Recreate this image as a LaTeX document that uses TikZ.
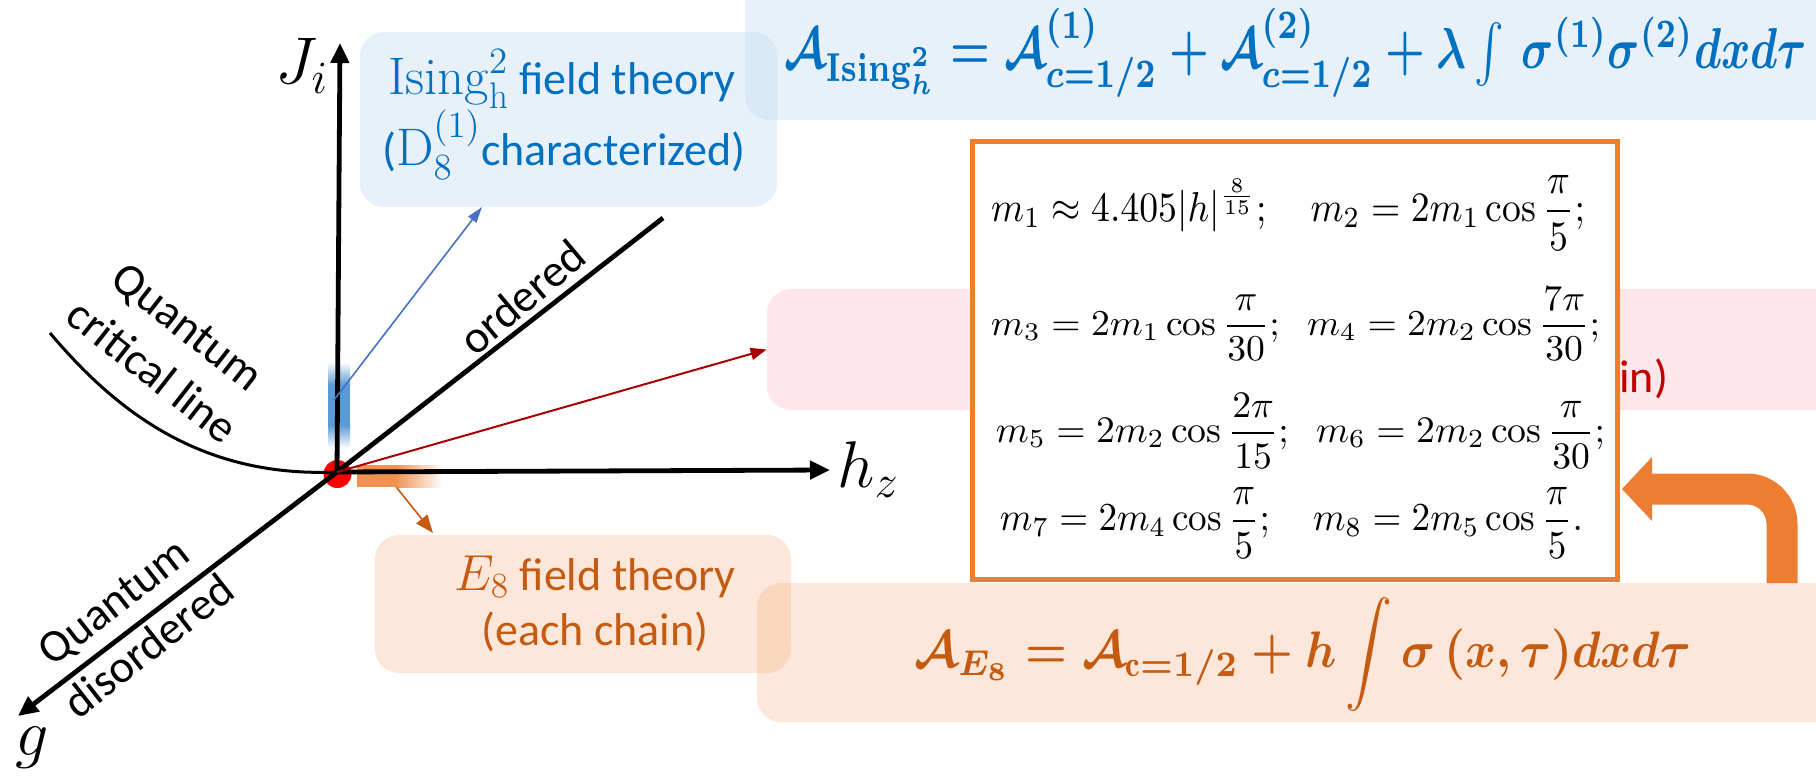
\RequirePackage{fix-cm}
\documentclass[tikz,border=0pt]{standalone}
\usepackage{amsmath}
\usepackage{graphicx}
\usepackage{fontspec}
\newfontfamily\calibri{Carlito}
\usetikzlibrary{arrows.meta}
\definecolor{ppblue}{RGB}{0,112,192}
\definecolor{pporange}{RGB}{197,90,17}
\definecolor{ppred}{RGB}{192,0,0}
\definecolor{boxblue}{RGB}{189,215,238}
\definecolor{boxorange}{RGB}{244,177,131}
\definecolor{boxpink}{RGB}{255,192,203}
\definecolor{bordorange}{RGB}{237,125,49}
\definecolor{arrblue}{RGB}{68,114,196}
\definecolor{arrred}{RGB}{168,0,0}
\definecolor{glowblue}{RGB}{91,155,213}
\definecolor{gloworange}{RGB}{237,125,49}
\begin{document}
\begin{tikzpicture}[x=0.5pt,y=-0.5pt,
  softbox/.style={rounded corners=12pt, inner sep=0pt, draw=none},
  axisline/.style={line width=2.4pt, black},
  axistip/.style={-{Triangle[length=10pt,width=9pt]}},
  lbl/.style={font=\calibri\fontsize{23}{28.5}\selectfont, align=center, inner sep=0pt},
  axlbl/.style={font=\fontsize{33}{40}\selectfont, inner sep=0pt},
  massline/.style={inner sep=0pt, text=black},
]
\useasboundingbox (0,0) rectangle (1816,781);
% boxes
\node[softbox, fill=boxblue, fill opacity=0.35, minimum width=208.5pt, minimum height=87.5pt] (isingbox) at (568.5,119.5) {};
\node[softbox, fill=boxblue, fill opacity=0.35, minimum width=577.5pt, minimum height=80pt] (topbox) at (1322.5,40) {};
\node[softbox, fill=boxpink, fill opacity=0.4, minimum width=566.5pt, minimum height=60.5pt] (pinkbox) at (1333.5,349.5) {};
\node[softbox, fill=boxorange, fill opacity=0.3, minimum width=208pt, minimum height=69pt] (e8box) at (583,604) {};
\node[softbox, fill=boxorange, fill opacity=0.3, minimum width=571.5pt, minimum height=69.5pt] (botbox) at (1328.5,652.5) {};
\node[lbl, text=ppred, anchor=base west] (pinktxt) at (1619,392) {in)};
% mass box
\node[draw=bordorange, line width=2.5pt, fill=white, minimum width=322.5pt, minimum height=219pt, inner sep=0pt] (massbox) at (1295,360.5) {};
\node[massline] (m1) at (1288,212.5) {\resizebox*{297pt}{37.5pt}{$\displaystyle m_1 \approx 4.405|h|^{\frac{8}{15}};\quad m_2 = 2m_1\cos\frac{\pi}{5};$}};
\node[massline] (m2) at (1295.5,323.5) {\resizebox*{304.5pt}{36.5pt}{$\displaystyle m_3 = 2m_1\cos\frac{\pi}{30};\;\; m_4 = 2m_2\cos\frac{7\pi}{30};$}};
\node[massline] (m3) at (1300.5,430.5) {\resizebox*{304.5pt}{37.5pt}{$\displaystyle m_5 = 2m_2\cos\frac{2\pi}{15};\;\; m_6 = 2m_2\cos\frac{\pi}{30};$}};
\node[massline] (m4) at (1291.5,522.5) {\resizebox*{291.5pt}{35.5pt}{$\displaystyle m_7 = 2m_4\cos\frac{\pi}{5};\quad m_8 = 2m_5\cos\frac{\pi}{5}.$}};
% formulas
\node[text=ppblue, inner sep=0pt] (topeq) at (1296,53) {\resizebox*{511pt}{45pt}{\boldmath$\mathcal{A}_{\mathbf{Ising}_{h}^{2}} = \mathcal{A}_{c=1/2}^{(1)} + \mathcal{A}_{c=1/2}^{(2)} + \lambda\int\,\sigma^{(1)}\sigma^{(2)}dxd\tau$}};
\node[text=pporange, inner sep=0pt] (boteq) at (1303,655) {\resizebox*{388pt}{57pt}{\boldmath$\mathcal{A}_{E_8} = \mathcal{A}_{\mathrm{c}=1/2} + h\displaystyle\int\sigma\,(x,\tau)dxd\tau$}};
% box texts
\node[lbl, text=ppblue, anchor=base] (is1) at (562,95) {\scalebox{1.15}{$\mathrm{Ising}_{\mathrm{h}}^{2}$} field theory};
\node[lbl, text=ppblue, anchor=base] (is2) at (564,165) {(\scalebox{1.15}{$\mathrm{D}_{8}^{(1)}$}characterized)};
\node[lbl, text=pporange, anchor=base] (e81) at (595,590) {\scalebox{1.1}{$E_8$} field theory};
\node[lbl, text=pporange, anchor=base] (e82) at (595,645) {(each chain)};
% glows
\shade[top color=white, bottom color=glowblue] (328,362) rectangle (350,385);
\fill[glowblue] (328,385) rectangle (350,425);
\shade[top color=glowblue, bottom color=white] (328,425) rectangle (350,448);
\fill[gloworange!85] (357,465) rectangle (395,487);
\shade[left color=gloworange!85, right color=white] (395,465) rectangle (443,487);
% origin
\coordinate (O) at (337,472);
\node[circle, fill=red, minimum size=14pt, inner sep=0pt] (dot) at (337.5,474) {};
\draw[line width=1.5pt] (50,333) .. controls (115,410) and (200,478) .. (O);
% axes
\coordinate (Jtip) at (340,43);
\coordinate (htip) at (830,470);
\coordinate (gtip) at (18,716);
\coordinate (ordend) at (663,218);
\draw[axisline, axistip] (O) -- (Jtip);
\draw[axisline, axistip] (O) -- (htip);
\draw[axisline, axistip] (O) -- (gtip);
\draw[axisline] (O) -- (ordend);
\node[axlbl] (Jlbl) at (302,66) {$J_i$};
\node[axlbl] (hlbl) at (868,470) {$h_z$};
\node[axlbl] (glbl) at (32,748) {$g$};
% thin arrows
\coordinate (bstart) at (334,400);
\coordinate (btip) at (482,207);
\draw[arrblue, line width=0.8pt, -{Triangle[length=8pt,width=5pt]}] (bstart) -- (btip);
\draw[arrred, line width=1pt, -{Triangle[length=8pt,width=6pt]}] (O) -- (pinkbox.west);
\coordinate (ostart) at (397,488);
\coordinate (otip) at (433,533);
\draw[pporange, line width=0.8pt, -{Triangle[length=9pt,width=7pt]}] (ostart) -- (otip);
% big arrow
\coordinate (bigstart) at (1782,583);
\coordinate (bigend) at (1650,489);
\draw[bordorange, line width=15.5pt, rounded corners=17.5pt] (bigstart) |- (bigend);
\fill[bordorange] (1652,457) -- (1622,489) -- (1652,521) -- cycle;
% rotated labels
\node[lbl, rotate=-38] (qcl) at (170,349) {Quantum\\critical line};
\node[lbl, rotate=40] (ord) at (522,297) {ordered};
\node[lbl, rotate=38] (qd) at (131,624) {Quantum\\disordered};
\end{tikzpicture}
\end{document}
